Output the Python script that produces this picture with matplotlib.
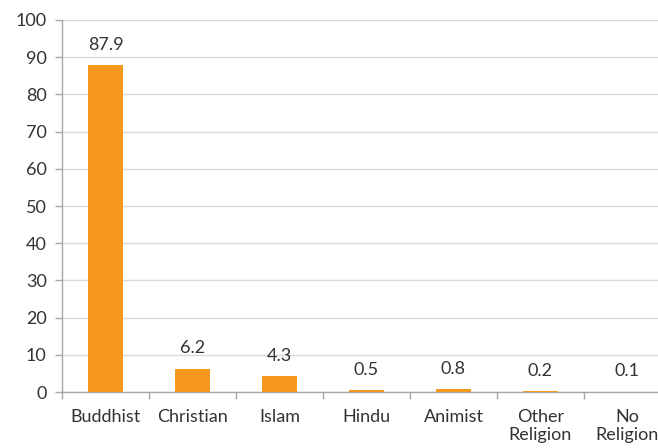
import matplotlib.pyplot as plt
import numpy as np

categories = ["Buddhist", "Christian", "Islam", "Hindu", "Animist", "Other\nReligion", "No\nReligion"]
values = [87.9, 6.2, 4.3, 0.5, 0.8, 0.2, 0.1]
yticks = [0, 10, 20, 30, 40, 50, 60, 70, 80, 90, 100]

plt.rcParams['font.family'] = ['Lato', 'DejaVu Sans']
txt = '#333333'
axc = '#a6a6a6'
bar_c = '#f7991f'

fig = plt.figure(figsize=(6.58, 4.48), dpi=100)
# plot area runs past the right edge of the picture, like the original
ax = fig.add_axes([62/658, 56/448, 609/658, 372/448])

x = np.arange(len(categories))
ax.bar(x, values, width=0.4, color=bar_c, zorder=3)
for xi, v in zip(x, values):
    ax.annotate(f"{v}", (xi, v), xytext=(0, 9), textcoords='offset points',
                ha='center', va='bottom', fontsize=13, color=txt)

ax.set_xlim(-0.5, len(categories) - 0.5)
ax.set_ylim(0, 100)
ax.set_yticks(yticks)
ax.yaxis.grid(True, color='#d9d9d9', linewidth=1)
ax.set_axisbelow(True)

ax.set_xticks(x)
ax.set_xticklabels(categories)
ax.set_xticks(np.arange(len(categories) + 1) - 0.5, minor=True)
ax.tick_params(axis='x', which='major', length=0, pad=12, labelsize=13, labelcolor=txt)
ax.tick_params(axis='x', which='minor', length=5, color=axc, width=1)
ax.tick_params(axis='y', length=5, color=axc, width=1, labelsize=13, labelcolor=txt, pad=6)

for s in ['top', 'right']:
    ax.spines[s].set_visible(False)
for s in ['left', 'bottom']:
    ax.spines[s].set_color(axc)
    ax.spines[s].set_linewidth(1)

fig.savefig('out.png', dpi=100)
